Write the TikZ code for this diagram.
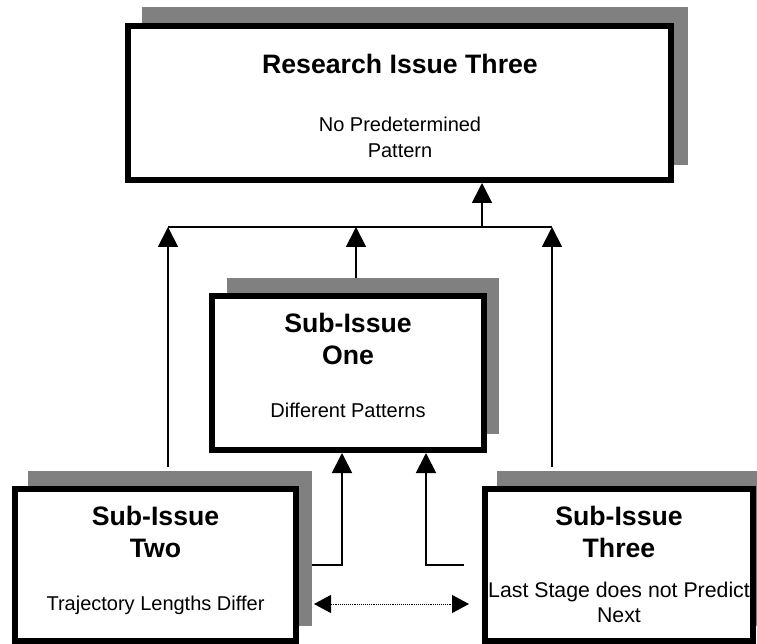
\documentclass[tikz,border=0pt]{standalone}
\usepackage{fontspec}
\setmainfont{Liberation Sans}
\usetikzlibrary{arrows.meta}
\definecolor{shadowgray}{HTML}{808080}
\begin{document}
\begin{tikzpicture}[x=1pt,y=-1pt,
  box/.style={draw=black, line width=6pt, fill=white, inner sep=0pt},
  drop/.style={fill=shadowgray},
  link/.style={line width=1.8pt},
  arr/.style={link, -{Triangle[length=20pt,width=20pt]}},
  dotarr/.style={line width=0.9pt, densely dotted,
    {Triangle[length=17pt,width=18pt]}-{Triangle[length=17pt,width=18pt]}},
  head/.style={font=\fontsize{26.67}{32}\selectfont\bfseries, anchor=base, inner sep=0pt},
  body/.style={font=\fontsize{20}{25}\selectfont, anchor=base, inner sep=0pt},
  widebody/.style={body, font=\fontsize{21.3}{26}\selectfont}]

\useasboundingbox (0,0) rectangle (757,644);
\clip (0,0) rectangle (757,644);

% drop shadows behind the boxes
\fill[drop] (142,7) rectangle (688,165);
\fill[drop] (227,278) rectangle (499,434);
\fill[drop] (28,471) rectangle (312,626);
\fill[drop] (497,471) rectangle (760,626);

% boxes
\node[box, minimum width=543pt, minimum height=154pt] (top) at (399.5,103) {};
\node[box, minimum width=272pt, minimum height=154pt] (one) at (348,373) {};
\node[box, minimum width=281pt, minimum height=152pt] (two) at (155.5,565) {};
\node[box, minimum width=268pt, minimum height=152pt] (three) at (619,565) {};

% box texts
\node[head] (topT) at (400,74) {Research Issue Three};
\node[body] (topA) at (400,132) {No Predetermined};
\node[body] (topB) at (400,158) {Pattern};

\node[head] (oneT) at (348,332) {Sub-Issue};
\node[head] (oneU) at (348,364) {One};
\node[body] (oneA) at (348,417) {Different Patterns};

\node[head] (twoT) at (155.5,525) {Sub-Issue};
\node[head] (twoU) at (155.5,557) {Two};
\node[body] (twoA) at (155.5,610) {Trajectory Lengths Differ};

\node[head] (thrT) at (619,525) {Sub-Issue};
\node[head] (thrU) at (619,557) {Three};
\node[widebody] (thrA) at (619,597) {Last Stage does not Predict};
\node[widebody] (thrB) at (619,622) {Next};

% junction points of the collecting line
\coordinate (jl) at (168,227);
\coordinate (jm) at (356,227);
\coordinate (jt) at (482,227);
\coordinate (jr) at (552,227);

% free ends of the connectors
\coordinate (twoUp) at (168,467);
\coordinate (oneUp) at (356,278);
\coordinate (thrUp) at (552,467);
\coordinate (twoSide) at (312,565);
\coordinate (twoBend) at (342,565);
\coordinate (thrSide) at (464,565);
\coordinate (thrBend) at (426,565);
\coordinate (dl) at (314,604);
\coordinate (dr) at (469,604);

% collecting line and feed into the top box
\draw[link] (jl) -- (jr);
\draw[arr] (jt) -- (jt |- top.south);
\draw[arr] (twoUp) -- (jl);
\draw[arr] (oneUp) -- (jm);
\draw[arr] (thrUp) -- (jr);

% lower sub-issues into sub-issue one
\draw[arr] (twoSide) -- (twoBend) -- (twoBend |- one.south);
\draw[arr] (thrSide) -- (thrBend) -- (thrBend |- one.south);

% link between sub-issues two and three
\draw[dotarr] (dl) -- (dr);
\end{tikzpicture}
\end{document}
